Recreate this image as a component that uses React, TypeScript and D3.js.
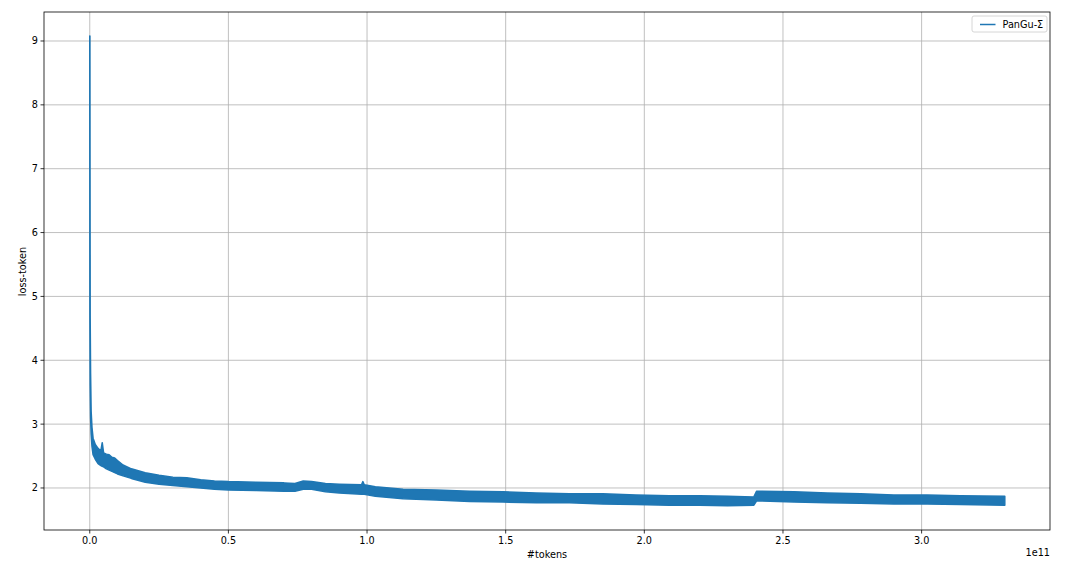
import * as d3 from "d3";

// training loss envelope (x in units of 1e11 tokens)
const TOKENS = [
  0, 0.0005, 0.0015, 0.003, 0.005, 0.008, 0.012, 0.02, 0.03, 0.04, 0.045, 0.05,
  0.06, 0.07, 0.08, 0.09, 0.1, 0.12, 0.15, 0.2, 0.25, 0.3, 0.35, 0.4, 0.45, 0.5,
  0.6, 0.7, 0.74, 0.77, 0.8, 0.85, 0.9, 0.98, 0.985, 0.99, 1.03, 1.13, 1.25, 1.37,
  1.49, 1.61, 1.73, 1.85, 1.97, 2.09, 2.2, 2.3, 2.395, 2.405, 2.54, 2.66, 2.78,
  2.9, 3.02, 3.14, 3.3,
];
const LOSS_HIGH = [
  9.08, 9.08, 4.7, 3.8, 3.2, 2.95, 2.78, 2.68, 2.62, 2.58, 2.71, 2.55,
  2.53, 2.52, 2.48, 2.47, 2.43, 2.36, 2.3, 2.24, 2.2, 2.17, 2.16, 2.13, 2.11, 2.1,
  2.09, 2.08, 2.07, 2.11, 2.1, 2.07, 2.06, 2.05, 2.1, 2.05, 2.02, 1.98, 1.97, 1.95,
  1.94, 1.92, 1.91, 1.91, 1.89, 1.88, 1.88, 1.87, 1.86, 1.95, 1.94, 1.92, 1.91,
  1.89, 1.89, 1.88, 1.87,
];
const LOSS_LOW = [
  9.08, 4.7, 3.6, 3.1, 2.85, 2.65, 2.52, 2.45, 2.38, 2.35, 2.34, 2.33,
  2.3, 2.28, 2.26, 2.24, 2.22, 2.19, 2.15, 2.09, 2.06, 2.04, 2.02, 2.0, 1.98, 1.97,
  1.96, 1.95, 1.95, 1.98, 1.98, 1.94, 1.92, 1.9, 1.9, 1.9, 1.87, 1.83, 1.81, 1.79,
  1.78, 1.77, 1.77, 1.75, 1.74, 1.73, 1.73, 1.72, 1.73, 1.8, 1.78, 1.77, 1.76,
  1.75, 1.75, 1.74, 1.73,
];

const X_TICKS = [0, 0.5, 1.0, 1.5, 2.0, 2.5, 3.0];
const Y_TICKS = [2, 3, 4, 5, 6, 7, 8, 9];
const SERIES_NAME = "PanGu-Σ";

const W = 1076;
const H = 565;
const margin = { top: 12, right: 26, bottom: 35, left: 44 };
const BLUE = "#1f77b4";
const FONT = "DejaVu Sans, sans-serif";
const FS = 9.7;

export default function App() {
  const innerW = W - margin.left - margin.right;
  const innerH = H - margin.top - margin.bottom;

  const x = d3.scaleLinear().domain([-0.165, 3.463]).range([0, innerW]);
  const y = d3.scaleLinear().domain([1.342, 9.454]).range([innerH, 0]);

  const rows = TOKENS.map((t, i) => ({ t, hi: LOSS_HIGH[i], lo: LOSS_LOW[i] }));
  const band = d3
    .area<{ t: number; hi: number; lo: number }>()
    .x((d) => x(d.t))
    .y0((d) => y(d.lo))
    .y1((d) => y(d.hi))(rows);

  return (
    <div style={{ position: "absolute", left: 0, top: 0 }}>
      <svg width={W} height={H} fontFamily={FONT}>
        <rect width={W} height={H} fill="#fff" />
        <defs>
          <clipPath id="plot">
            <rect width={innerW} height={innerH} />
          </clipPath>
        </defs>
        <g transform={`translate(${margin.left},${margin.top})`}>
          {/* grid */}
          {X_TICKS.map((t) => (
            <line key={"gx" + t} x1={x(t)} x2={x(t)} y1={0} y2={innerH} stroke="#b0b0b0" strokeWidth={0.8} />
          ))}
          {Y_TICKS.map((t) => (
            <line key={"gy" + t} x1={0} x2={innerW} y1={y(t)} y2={y(t)} stroke="#b0b0b0" strokeWidth={0.8} />
          ))}

          {/* loss band */}
          <g clipPath="url(#plot)">
            <path d={band ?? ""} fill={BLUE} stroke={BLUE} strokeWidth={1.5} strokeLinejoin="round" />
          </g>

          {/* frame */}
          <rect width={innerW} height={innerH} fill="none" stroke="#000" strokeWidth={0.8} />

          {/* x ticks */}
          {X_TICKS.map((t) => (
            <g key={"tx" + t} transform={`translate(${x(t)},${innerH})`}>
              <line y2={3.5} stroke="#000" strokeWidth={0.8} />
              <text y={13.6} textAnchor="middle" fontSize={FS} fill="#000">
                {d3.format(".1f")(t)}
              </text>
            </g>
          ))}
          {/* y ticks */}
          {Y_TICKS.map((t) => (
            <g key={"ty" + t} transform={`translate(0,${y(t)})`}>
              <line x2={-3.5} stroke="#000" strokeWidth={0.8} />
              <text x={-6} dy="0.35em" textAnchor="end" fontSize={FS} fill="#000">
                {t}
              </text>
            </g>
          ))}

          {/* legend */}
          <g transform={`translate(${innerW - 78},4)`}>
            <rect width={75} height={16} rx={2} fill="#fff" fillOpacity={0.8} stroke="#ccc" strokeWidth={0.8} />
            <line x1={8} x2={23.5} y1={8.5} y2={8.5} stroke={BLUE} strokeWidth={1.5} />
            <text x={30.5} y={8.5} dy="0.35em" fontSize={FS} fill="#000">
              {SERIES_NAME}
            </text>
          </g>
        </g>

        {/* axis labels */}
        <text x={547} y={557.5} textAnchor="middle" fontSize={FS} fill="#000">
          #tokens
        </text>
        <text x={1050} y={556} textAnchor="end" fontSize={FS} fill="#000">
          1e11
        </text>
        <text
          transform="translate(26,271.5) rotate(-90)"
          textAnchor="middle"
          fontSize={FS}
          fill="#000"
        >
          loss-token
        </text>
      </svg>
    </div>
  );
}
